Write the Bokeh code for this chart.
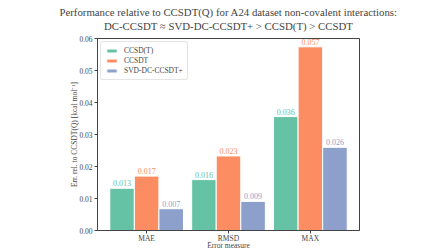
from bokeh.plotting import figure
from bokeh.models import ColumnDataSource, Range1d, FixedTicker, Title, Legend, LegendItem
from bokeh.embed import file_html
from bokeh.resources import INLINE

categories = ["MAE", "RMSD", "MAX"]
series_names = ["CCSD(T)", "CCSDT", "SVD-DC-CCSDT+"]
ccsd_t = [0.0132, 0.0159, 0.0356]
ccsdt = [0.0170, 0.0233, 0.0574]
svd_dc = [0.0068, 0.0091, 0.0260]
colors = ["#66c2a5", "#fc8d62", "#8da0cb"]
y_ticks = [0.00, 0.01, 0.02, 0.03, 0.04, 0.05, 0.06]
title_lines = ["Performance relative to CCSDT(Q) for A24 dataset non-covalent interactions:",
               "DC-CCSDT \u2248 SVD-DC-CCSDT+ > CCSD(T) > CCSDT"]

FONT = "Liberation Serif"

p = figure(width=448, height=252, output_backend="svg", toolbar_location=None,
           x_range=Range1d(-0.6, 2.6), y_range=Range1d(0, 0.06),
           min_border_left=97, min_border_right=89, min_border_top=38, min_border_bottom=0)

p.title.text = title_lines[0]
p.title.text_font = FONT
p.title.text_font_size = "10.8px"
p.title.text_font_style = "normal"
p.title.align = "center"
p.title.standoff = 0
p.title.offset = -7
# spacer between the second title line and the frame
p.add_layout(Title(text=" ", text_font=FONT, text_font_size="4px", standoff=0), "above")
p.add_layout(Title(text=title_lines[1], text_font=FONT, text_font_size="10.8px",
                   text_font_style="normal", align="center", standoff=0, offset=-7), "above")

series = [ccsd_t, ccsdt, svd_dc]
offsets = [-0.3, 0.0, 0.3]
xs = list(range(len(categories)))
items = []
for name, vals, col, off in zip(series_names, series, colors, offsets):
    src = ColumnDataSource(dict(x=[xi + off for xi in xs], top=vals,
                                lab=["%.3f" % v for v in vals],
                                ly=[v + 0.0006 for v in vals]))
    r = p.vbar(x="x", top="top", width=0.3, source=src, fill_color=col,
               line_color="white", line_width=1)
    p.text(x="x", y="ly", text="lab", source=src, text_color=col,
           text_font=FONT, text_font_size="8px", text_align="center",
           text_baseline="bottom")
    items.append(LegendItem(label=name, renderers=[r]))

legend = Legend(items=items, location="top_left", label_text_font=FONT,
                label_text_font_size="7.5px", glyph_width=13, glyph_height=5,
                label_height=8, spacing=1, padding=4, margin=3,
                border_line_color="#cccccc", border_line_width=1,
                border_radius=3, label_standoff=6)
p.add_layout(legend)

p.xgrid.visible = False
p.ygrid.visible = False
p.outline_line_color = "#444444"
p.outline_line_width = 1

p.xaxis.ticker = FixedTicker(ticks=xs)
p.xaxis.major_label_overrides = {i: c for i, c in enumerate(categories)}
p.yaxis.ticker = FixedTicker(ticks=y_ticks)
p.yaxis.major_label_overrides = {t: "%.2f" % t for t in y_ticks}
for ax in (p.xaxis, p.yaxis):
    ax.major_label_text_font = FONT
    ax.major_label_text_font_size = "7.5px"
    ax.major_label_standoff = 2
    ax.major_tick_out = 3
    ax.major_tick_in = 0
    ax.minor_tick_line_color = None
    ax.axis_line_color = "#444444"
    ax.major_tick_line_color = "#444444"
    ax.axis_label_text_font = FONT
    ax.axis_label_text_font_size = "7.5px"
    ax.axis_label_text_font_style = "normal"
p.xaxis.major_label_standoff = 0
p.xaxis.major_label_text_line_height = 1.0
p.xaxis.axis_label_text_line_height = 1.0
p.yaxis.axis_label = "Err. rel. to CCSDT(Q) [kcal mol\u207b\u00b9]"
p.yaxis.axis_label_standoff = -3
p.xaxis.axis_label = "Error measure"
p.xaxis.axis_label_standoff = -5

open("out.html", "w").write(file_html(p, INLINE))
